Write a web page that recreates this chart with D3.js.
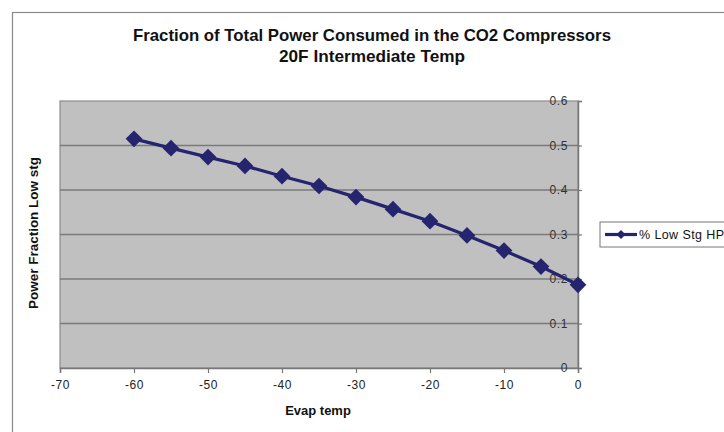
<!DOCTYPE html>
<html>
<head>
<meta charset="utf-8">
<script src="https://cdn.jsdelivr.net/npm/d3@7"></script>
<style>
  html, body { margin: 0; padding: 0; background: #fff; }
  svg { display: block; font-family: Arial, "Liberation Sans", sans-serif; }
</style>
</head>
<body>
<svg id="chart" width="724" height="432"></svg>
<script>
// Evaporator temperature (F) and low-stage share of compressor power
const evapTemps = [-60, -55, -50, -45, -40, -35, -30, -25, -20, -15, -10, -5, 0];
const lowStageFraction = [0.515, 0.494, 0.474, 0.454, 0.431, 0.409, 0.384, 0.357, 0.330, 0.298, 0.264, 0.228, 0.187];
const xTicks = [-70, -60, -50, -40, -30, -20, -10, 0];
const yTicks = [0, 0.1, 0.2, 0.3, 0.4, 0.5, 0.6];
const titleLines = ["Fraction of Total Power Consumed in the CO2 Compressors", "20F Intermediate Temp"];
const seriesName = "% Low Stg HP";

const svg = d3.select("#chart");
const plot = { left: 60, right: 578, top: 101, bottom: 368 };
const navy = "#24246f";
const font = "Arial, 'Liberation Sans', sans-serif";

// outer chart frame
svg.append("rect")
  .attr("x", 12.5).attr("y", 12.5).attr("width", 740).attr("height", 440)
  .attr("fill", "#fff").attr("stroke", "#8a8a8a").attr("stroke-width", 1.2);

// title, two lines, set in a condensed bold face
const titleWidths = [478, 186];
svg.selectAll("text.title").data(titleLines).enter().append("text")
  .attr("class", "title")
  .attr("x", 372).attr("y", (d, i) => 41 + i * 21)
  .attr("text-anchor", "middle")
  .attr("font-size", 17).attr("font-weight", "bold")
  .attr("fill", "#111")
  .attr("textLength", (d, i) => titleWidths[i])
  .attr("lengthAdjust", "spacingAndGlyphs")
  .text(d => d);

const x = d3.scaleLinear().domain([-70, 0]).range([plot.left, plot.right]);
const y = d3.scaleLinear().domain([0, 0.6]).range([plot.bottom, plot.top]);

// plot area
svg.append("rect")
  .attr("x", plot.left).attr("y", plot.top)
  .attr("width", plot.right - plot.left).attr("height", plot.bottom - plot.top)
  .attr("fill", "#c0c0c0").attr("stroke", "#8c8c8c").attr("stroke-width", 1.2);

// horizontal gridlines
svg.append("g").selectAll("line").data(yTicks.filter(v => v > 0 && v < 0.6)).enter().append("line")
  .attr("x1", plot.left).attr("x2", plot.right)
  .attr("y1", d => y(d)).attr("y2", d => y(d))
  .attr("stroke", "#7a7a7a").attr("stroke-width", 1.6);

// x axis along the bottom
const xAxis = svg.append("g")
  .attr("transform", `translate(0,${plot.bottom})`)
  .call(d3.axisBottom(x).tickValues(xTicks).tickSize(5).tickPadding(7).tickFormat(d => String(d)));
xAxis.select(".domain").attr("stroke", "#777").attr("stroke-width", 1.5);
xAxis.selectAll(".tick line").attr("stroke", "#777").attr("stroke-width", 1.2);
xAxis.selectAll(".tick text").attr("font-size", 12).attr("fill", "#222")
  .attr("letter-spacing", 0.6).attr("font-family", font);

// y axis crossing at x = 0, labels sitting inside the plot
const yAxis = svg.append("g")
  .attr("transform", `translate(${x(0)},0)`)
  .call(d3.axisRight(y).tickValues(yTicks).tickSize(4).tickFormat(d => String(+d.toFixed(1))));
yAxis.select(".domain").attr("stroke", "#777").attr("stroke-width", 1.5);
yAxis.selectAll(".tick line").attr("stroke", "#777").attr("stroke-width", 1.2);
yAxis.selectAll(".tick text")
  .attr("x", -10).attr("text-anchor", "end")
  .attr("font-size", 12).attr("fill", "#333").attr("letter-spacing", 0.6)
  .attr("font-family", font);

// axis titles
svg.append("text")
  .attr("transform", `translate(38,233) rotate(-90)`)
  .attr("text-anchor", "middle")
  .attr("font-size", 13).attr("font-weight", "bold").attr("fill", "#111")
  .attr("textLength", 152).attr("lengthAdjust", "spacingAndGlyphs")
  .text("Power Fraction Low stg");

svg.append("text")
  .attr("x", 318).attr("y", 415)
  .attr("text-anchor", "middle")
  .attr("font-size", 13).attr("font-weight", "bold").attr("fill", "#111")
  .text("Evap temp");

// series line and diamond markers
const pts = evapTemps.map((t, i) => [t, lowStageFraction[i]]);
svg.append("path")
  .datum(pts)
  .attr("fill", "none").attr("stroke", navy).attr("stroke-width", 3.2)
  .attr("stroke-linejoin", "round")
  .attr("d", d3.line().x(d => x(d[0])).y(d => y(d[1])));

svg.append("g").selectAll("path").data(pts).enter().append("path")
  .attr("transform", d => `translate(${x(d[0])},${y(d[1])}) rotate(45)`)
  .attr("d", d3.symbol().type(d3.symbolSquare).size(140))
  .attr("fill", navy);

// legend
const lg = svg.append("g").attr("transform", "translate(600,222)");
lg.append("rect").attr("width", 140).attr("height", 25)
  .attr("fill", "#fff").attr("stroke", "#777").attr("stroke-width", 1);
lg.append("line").attr("x1", 5).attr("x2", 37).attr("y1", 12.5).attr("y2", 12.5)
  .attr("stroke", navy).attr("stroke-width", 3.2);
lg.append("path").attr("transform", "translate(21,12.5) rotate(45)")
  .attr("d", d3.symbol().type(d3.symbolSquare).size(40)).attr("fill", navy);
lg.append("text").attr("x", 39).attr("y", 17)
  .attr("font-size", 12.5).attr("fill", "#111").attr("letter-spacing", 0.4)
  .text(seriesName);
</script>
</body>
</html>
